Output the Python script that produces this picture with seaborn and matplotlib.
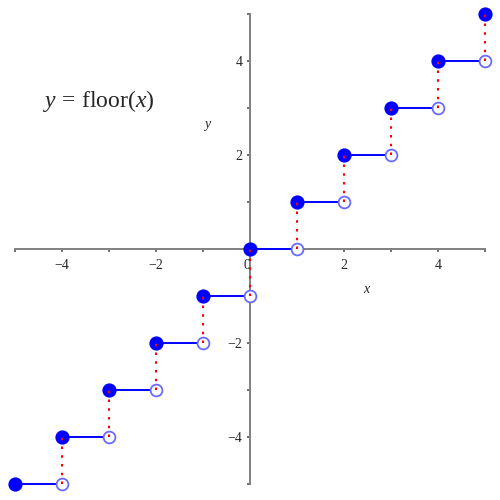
import numpy as np
import pandas as pd
import matplotlib
matplotlib.use("Agg")
import matplotlib.pyplot as plt
import seaborn as sns

# step function data
filled_x = [-5, -4, -3, -2, -1, 0, 1, 2, 3, 4, 5]
filled_y = [-5, -4, -3, -2, -1, 0, 1, 2, 3, 4, 5]
open_x = [-4, -3, -2, -1, 0, 1, 2, 3, 4, 5]
open_y = [-5, -4, -3, -2, -1, 0, 1, 2, 3, 4]
jump_x = [-4, -3, -2, -1, 0, 1, 2, 3, 4, 5]
jump_lo = [-5, -4, -3, -2, -1, 0, 1, 2, 3, 4]
jump_hi = [-4, -3, -2, -1, 0, 1, 2, 3, 4, 5]
tick_major = [-4, -2, 0, 2, 4]
tick_minor = [-5, -3, -1, 1, 3, 5]

sns.set_style("white")
plt.rcParams["font.family"] = ["Liberation Serif", "DejaVu Serif"]
plt.rcParams["mathtext.fontset"] = "custom"
plt.rcParams["mathtext.rm"] = "Liberation Serif"
plt.rcParams["mathtext.it"] = "Liberation Serif:italic"

# long-form frames for the segments
steps = pd.DataFrame({
    "x": [v for a, b in zip(filled_x[:-1], open_x) for v in (a, b)],
    "y": [v for lvl in open_y for v in (lvl, lvl)],
    "seg": [i for i in range(len(open_x)) for _ in range(2)],
})
jumps = pd.DataFrame({
    "x": [v for v in jump_x for _ in range(2)],
    "y": [v for a, b in zip(jump_lo, jump_hi) for v in (a, b)],
    "seg": [i for i in range(len(jump_x)) for _ in range(2)],
})

fig = plt.figure(figsize=(5, 5), dpi=100)
ax = fig.add_axes([0.03, 0.032, 0.94, 0.94])

sns.lineplot(data=steps, x="x", y="y", units="seg", estimator=None, sort=False,
             color="#0000ff", lw=1.4, ax=ax, zorder=3)
sns.scatterplot(x=open_x, y=open_y, s=72, facecolor="white",
                edgecolor="#6a6aff", linewidth=1.3, ax=ax, zorder=4, clip_on=False)
sns.scatterplot(x=filled_x, y=filled_y, s=105, color="#0000ff",
                edgecolor="#0000ff", linewidth=0, ax=ax, zorder=5, clip_on=False)
sns.lineplot(data=jumps, x="x", y="y", units="seg", estimator=None, sort=False,
             color="red", lw=1.5, ls=(0, (1.2, 3)), ax=ax, zorder=6)
for ln in ax.lines:
    ln.set_clip_on(False)

ax.set_xlim(-5, 5)
ax.set_ylim(-5, 5)
for side in ["top", "right"]:
    ax.spines[side].set_visible(False)
for side in ["left", "bottom"]:
    ax.spines[side].set_position(("data", 0))
    ax.spines[side].set_color("#808080")
    ax.spines[side].set_linewidth(1.4)
    ax.spines[side].set_zorder(2)

ax.set_xticks(tick_major)
ax.set_xticks(tick_minor, minor=True)
ax.set_xticklabels(["\u22124", "\u22122", "0", "2", "4"])
ax.set_yticks([-4, -2, 2, 4])
ax.set_yticks(tick_minor, minor=True)
ax.set_yticklabels(["\u22124", "\u22122", "2", "4"])
ax.tick_params(which="both", direction="out", length=2.5, width=1.4, color="#707070",
               labelsize=10, pad=3, bottom=True, left=True)
ax.tick_params(axis="x", pad=5)
ax.get_xticklabels()[2].set_horizontalalignment("right")

ax.set_xlabel("$x$", fontsize=10)
ax.set_ylabel("$y$", fontsize=10, rotation=0)
ax.xaxis.set_label_coords(0.749, 0.428)
ax.yaxis.set_label_coords(0.41, 0.747)

ax.text(0.179, 0.815, r"$y\,=\,\mathrm{floor}(x)$", transform=ax.transAxes,
        fontsize=17, ha="center", va="center")

fig.savefig("out.png", dpi=100)
